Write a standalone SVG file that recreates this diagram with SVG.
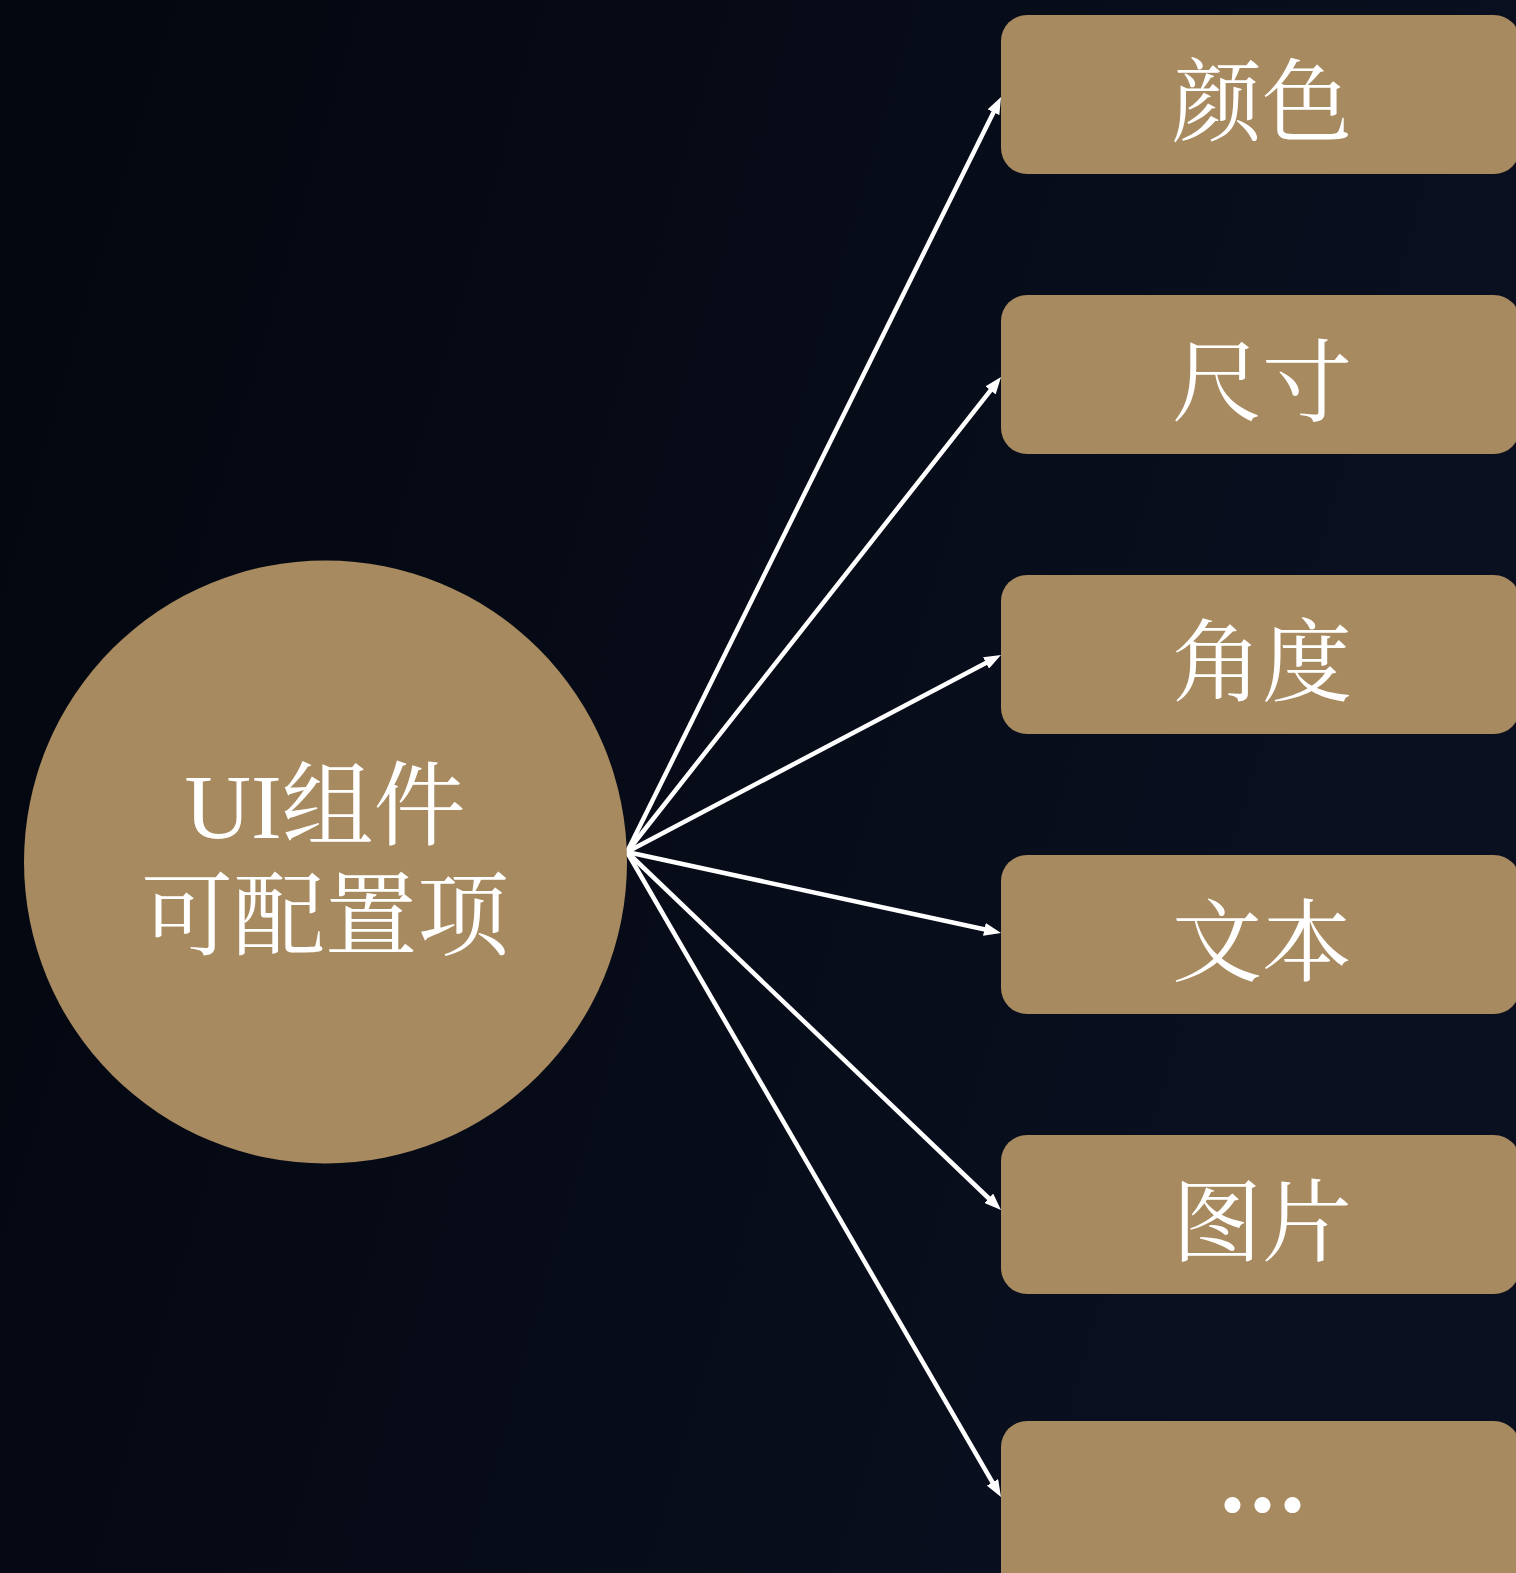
<svg xmlns="http://www.w3.org/2000/svg" width="1516" height="1573" viewBox="0 0 1516 1573">
<style>
.node{fill:#a78a5f}
.lbl{fill:#ffffff;font-family:"Liberation Serif","Noto Serif CJK SC","Noto Sans CJK SC",serif;font-size:90px;text-anchor:middle}
.big{font-size:92px}
.conn{stroke:#ffffff;stroke-width:4.5;fill:none;marker-end:url(#ah)}
</style>
<defs>
<linearGradient id="bg" x1="0" y1="0" x2="1" y2="0.3">
<stop offset="0" stop-color="#03060e"/>
<stop offset="1" stop-color="#0a1020"/>
</linearGradient>
<marker id="ah" markerUnits="userSpaceOnUse" markerWidth="17" markerHeight="13" refX="9" refY="6.5" orient="auto">
<path d="M0,0 L17,6.5 L0,13 z" fill="#ffffff"/>
</marker>
</defs>
<rect x="0" y="0" width="1516" height="1573" fill="url(#bg)"/>
<g id="connectors">
<path class="conn" d="M627,852 L997.5,104.2"/>
<path class="conn" d="M627,852 L996.1,383.3"/>
<path class="conn" d="M627,852 L993.9,658.7"/>
<path class="conn" d="M627,852 L993.2,931.3"/>
<path class="conn" d="M627,852 L995.2,1204.5"/>
<path class="conn" d="M627,852 L997,1490.1"/>
</g>
<g id="center">
<circle class="node" cx="325.5" cy="862" r="301.5"/>
<text class="lbl big" x="325" y="838">UI组件</text>
<text class="lbl big" x="325" y="948">可配置项</text>
</g>
<g id="n1"><rect class="node" x="1001" y="15" width="519" height="159" rx="26"/><text class="lbl" x="1262" y="134">颜色</text></g>
<g id="n2"><rect class="node" x="1001" y="295" width="519" height="159" rx="26"/><text class="lbl" x="1262" y="414">尺寸</text></g>
<g id="n3"><rect class="node" x="1001" y="575" width="519" height="159" rx="26"/><text class="lbl" x="1262" y="694">角度</text></g>
<g id="n4"><rect class="node" x="1001" y="855" width="519" height="159" rx="26"/><text class="lbl" x="1262" y="974">文本</text></g>
<g id="n5"><rect class="node" x="1001" y="1135" width="519" height="159" rx="26"/><text class="lbl" x="1262" y="1254">图片</text></g>
<g id="n6"><rect class="node" x="1001" y="1421" width="519" height="200" rx="26"/><text x="1265" y="1512" fill="#ffffff" font-family="Lato, sans-serif" font-size="105" font-weight="bold" letter-spacing="5" text-anchor="middle">...</text></g>
</svg>
